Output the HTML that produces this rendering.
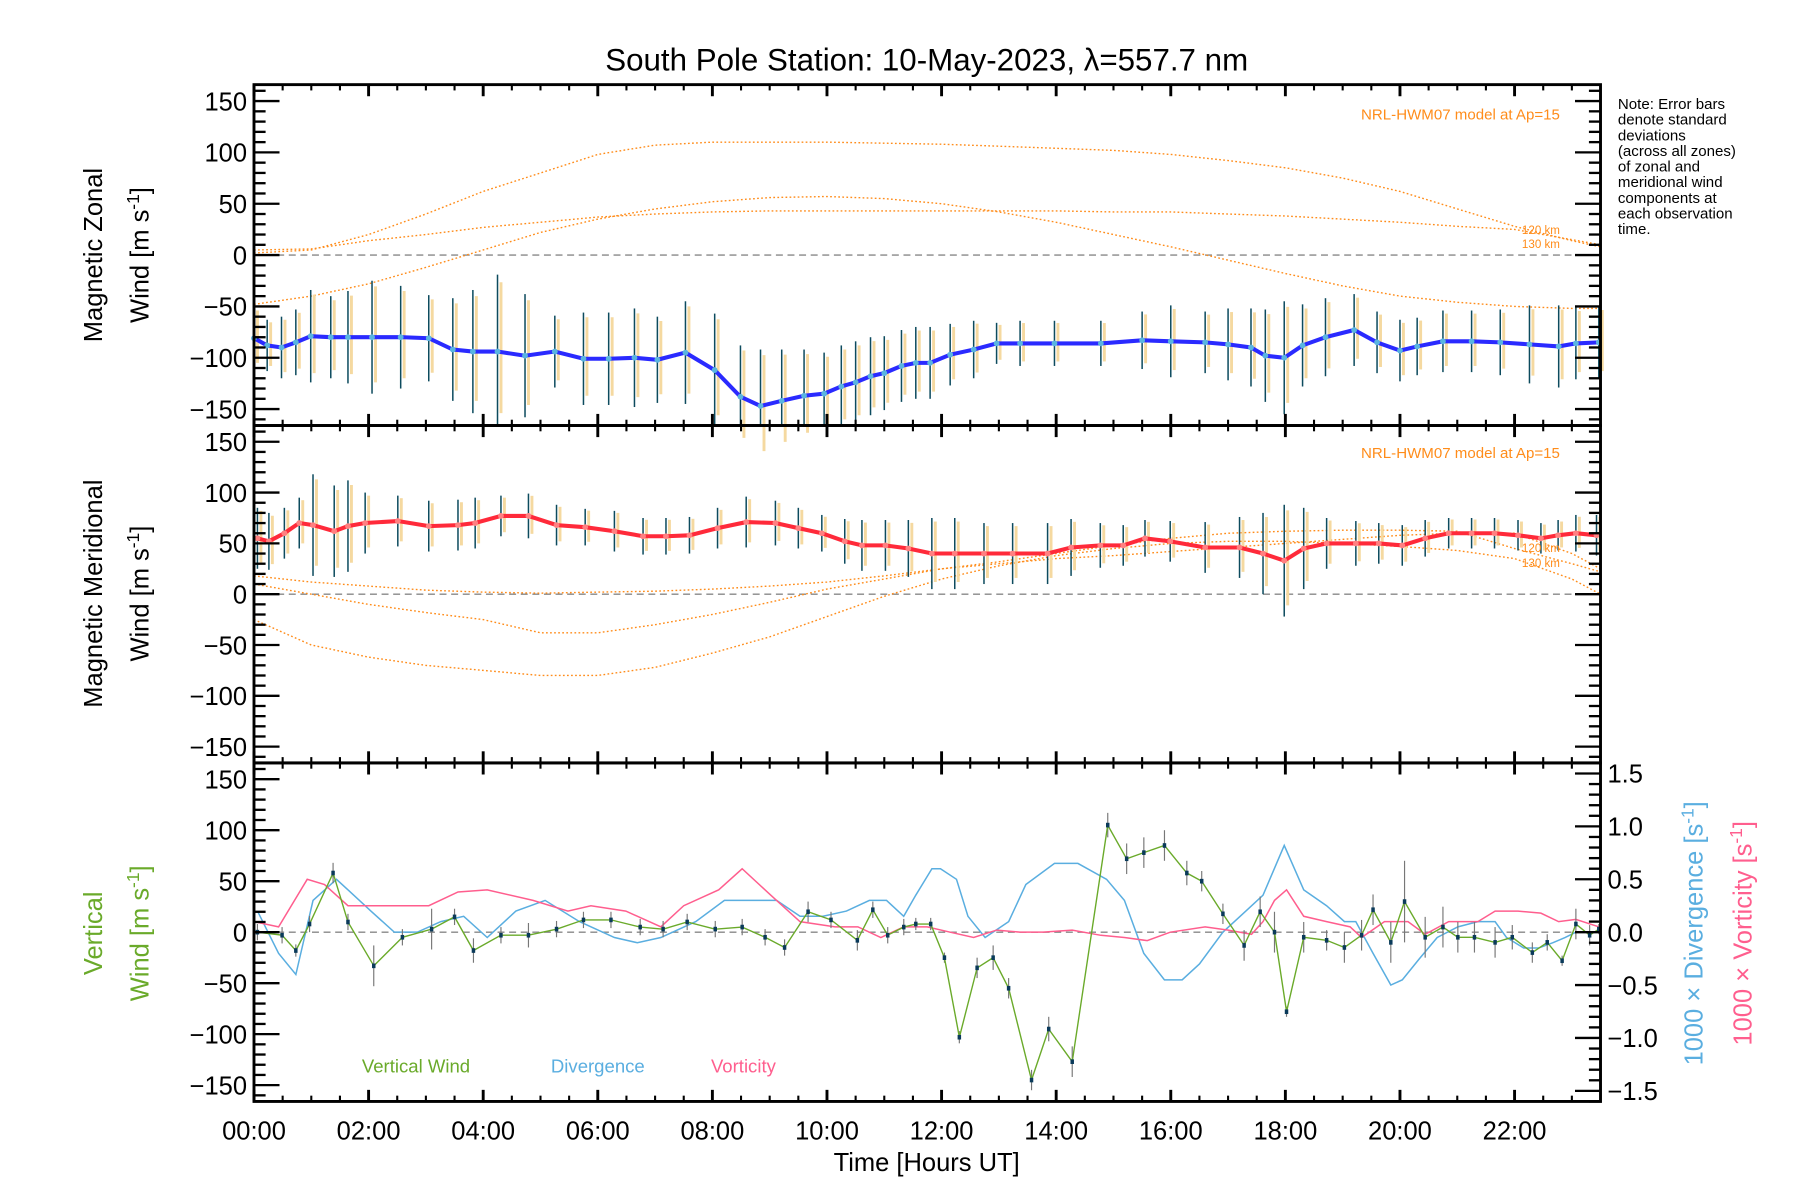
<!DOCTYPE html>
<html><head><meta charset="utf-8"><style>
html,body{margin:0;padding:0;background:#fff;}
svg{display:block;font-family:"Liberation Sans",sans-serif;}
</style></head><body>
<svg id="chart" width="1800" height="1200" viewBox="0 0 1552 1035" preserveAspectRatio="none" xmlns="http://www.w3.org/2000/svg">
<rect width="1552" height="1035" fill="#fff"/>
<text x="799" y="61" font-size="27" text-anchor="middle">South Pole Station: 10-May-2023, λ=557.7 nm</text>
<g id="layer"></g>
<g font-size="13" fill="#000">
<text x="1395" y="94">Note: Error bars</text>
<text x="1395" y="107.5">denote standard</text>
<text x="1395" y="121">deviations</text>
<text x="1395" y="134.5">(across all zones)</text>
<text x="1395" y="148">of zonal and</text>
<text x="1395" y="161.5">meridional wind</text>
<text x="1395" y="175">components at</text>
<text x="1395" y="188.5">each observation</text>
<text x="1395" y="202">time.</text>
</g>
<text font-size="22" transform="translate(88,220) rotate(-90)" text-anchor="middle">Magnetic Zonal</text>
<text font-size="22" transform="translate(128,220) rotate(-90)" text-anchor="middle">Wind [m s<tspan dy="-8" font-size="15">-1</tspan><tspan dy="8">]</tspan></text>
<text font-size="22" transform="translate(88,512) rotate(-90)" text-anchor="middle">Magnetic Meridional</text>
<text font-size="22" transform="translate(128,512) rotate(-90)" text-anchor="middle">Wind [m s<tspan dy="-8" font-size="15">-1</tspan><tspan dy="8">]</tspan></text>
<text font-size="22" fill="#6aaa2a" transform="translate(88,805) rotate(-90)" text-anchor="middle">Vertical</text>
<text font-size="22" fill="#6aaa2a" transform="translate(128,805) rotate(-90)" text-anchor="middle">Wind [m s<tspan dy="-8" font-size="15">-1</tspan><tspan dy="8">]</tspan></text>
<text font-size="22" fill="#5aaee0" transform="translate(1468,805) rotate(-90)" text-anchor="middle">1000 × Divergence [s<tspan dy="-8" font-size="15">-1</tspan><tspan dy="8">]</tspan></text>
<text font-size="22" fill="#ff5e8e" transform="translate(1510,805) rotate(-90)" text-anchor="middle">1000 × Vorticity [s<tspan dy="-8" font-size="15">-1</tspan><tspan dy="8">]</tspan></text>
<text x="799" y="1010" font-size="22" text-anchor="middle">Time [Hours UT]</text>
<text x="312" y="925" font-size="16" fill="#6aaa2a">Vertical Wind</text>
<text x="475" y="925" font-size="16" fill="#5aaee0">Divergence</text>
<text x="613" y="925" font-size="16" fill="#ff5e8e">Vorticity</text>
<text x="1345" y="103" font-size="13" fill="#ff8c1a" text-anchor="end">NRL-HWM07 model at Ap=15</text>
<text x="1345" y="395" font-size="13" fill="#ff8c1a" text-anchor="end">NRL-HWM07 model at Ap=15</text>
<text x="1345" y="202" font-size="10" fill="#ff8c1a" text-anchor="end">120 km</text>
<text x="1345" y="214" font-size="10" fill="#ff8c1a" text-anchor="end">130 km</text>
<text x="1345" y="476" font-size="10" fill="#ff8c1a" text-anchor="end">120 km</text>
<text x="1345" y="489" font-size="10" fill="#ff8c1a" text-anchor="end">130 km</text>
</svg>
<script>
// ---- data (x in displayed pixel space converted via hours) ----
const zonalHours=[0,.23,.48,.73,.99,1.34,1.64,2.06,2.56,3.05,3.47,3.82,4.25,4.73,5.25,5.75,6.19,6.64,7.04,7.53,8.04,8.49,8.84,9.21,9.6,9.95,10.25,10.5,10.76,11.0,11.3,11.55,11.8,12.15,12.56,12.96,13.37,13.97,14.78,15.5,16.0,16.6,17.0,17.4,17.65,17.98,18.3,18.7,19.2,19.6,20.0,20.3,20.75,21.25,21.75,22.26,22.77,23.07,23.47];
const zonalVals=[-81,-88,-90,-85,-79,-80,-80,-80,-80,-81,-92,-94,-94,-98,-94,-101,-101,-100,-102,-95,-112,-138,-147,-142,-137,-135,-128,-124,-118,-115,-108,-105,-105,-97,-92,-86,-86,-86,-86,-83,-84,-85,-87,-90,-98,-100,-88,-80,-73,-85,-93,-89,-84,-84,-85,-87,-89,-86,-85];
const zonalErr=[30,25,30,32,45,40,45,55,50,42,50,60,75,60,35,45,45,48,42,50,55,50,55,50,45,40,40,40,38,36,35,35,35,30,28,20,22,22,22,28,35,30,35,38,45,55,40,38,35,30,30,28,30,30,32,38,40,35,35];
const meridHours=[0.06,0.26,0.53,0.79,1.03,1.4,1.64,1.94,2.51,3.05,3.56,3.86,4.31,4.79,5.28,5.78,6.29,6.79,7.19,7.6,8.09,8.59,9.1,9.5,9.91,10.31,10.61,11.02,11.42,11.83,12.23,12.74,13.24,13.85,14.26,14.77,15.17,15.55,15.99,16.6,17.2,17.61,17.98,18.32,18.72,19.23,19.63,20.04,20.44,20.85,21.25,21.65,22.06,22.46,22.76,23.07,23.43];
const meridVals=[55,52,60,70,68,62,67,70,72,67,68,70,77,77,68,66,62,57,57,58,65,71,70,65,60,52,48,48,45,40,40,40,40,40,46,48,48,55,52,46,46,40,33,45,50,50,50,48,55,60,60,60,58,55,58,60,58];
const meridErr=[30,28,25,25,50,45,45,30,25,25,25,25,20,22,20,18,20,18,18,18,20,25,22,20,18,22,25,25,28,35,35,30,30,30,28,22,20,18,20,25,30,40,55,40,25,22,20,20,18,15,15,15,15,15,15,18,20];
const modelHours=[0,1,2,3,4,5,6,7,8,9,10,11,12,13,14,15,16,17,18,19,20,21,22,23,23.5];
const zonalModelA=[2,5,20,40,62,80,98,107,110,110,110,109,108,106,104,102,98,92,85,75,62,45,28,14,8];
const zonalModelB=[5,6,14,20,27,32,37,40,42,43,43,43,43,43,43,42,42,40,38,35,32,28,25,15,10];
const zonalModelC=[-48,-40,-28,-12,5,22,35,45,52,56,57,55,50,42,32,20,8,-5,-18,-30,-40,-46,-50,-52,-52];
const meridModelA=[18,12,8,4,2,1,2,3,5,8,12,18,25,32,40,48,55,60,62,63,63,62,45,30,22];
const meridModelB=[-25,-50,-62,-70,-75,-80,-80,-72,-58,-42,-22,-2,15,28,38,45,50,52,52,50,47,43,35,15,0];
const meridModelC=[10,0,-10,-18,-25,-38,-38,-30,-20,-8,5,15,25,30,35,38,42,46,50,54,58,60,60,40,25];
const vertHours=[0.06,0.49,0.73,0.97,1.38,1.64,2.09,2.59,3.1,3.5,3.83,4.31,4.79,5.28,5.75,6.23,6.74,7.14,7.56,8.05,8.52,8.92,9.26,9.67,10.07,10.53,10.8,11.06,11.34,11.55,11.81,12.05,12.31,12.62,12.9,13.17,13.57,13.87,14.28,14.9,15.23,15.53,15.89,16.28,16.54,16.91,17.28,17.56,17.81,18.02,18.32,18.72,19.03,19.33,19.53,19.84,20.08,20.44,20.75,21.01,21.3,21.66,21.96,22.31,22.57,22.83,23.07,23.31,23.47];
const vertVals=[0,-3,-18,8,58,10,-33,-5,3,15,-18,-3,-3,3,12,12,5,3,10,3,5,-5,-15,20,12,-8,22,-3,5,8,8,-25,-103,-35,-25,-55,-145,-95,-127,105,72,78,85,58,50,18,-13,20,0,-78,-5,-8,-15,-3,22,-10,30,-5,5,-5,-5,-10,-5,-20,-10,-28,8,-3,3];
const vertErr=[8,8,6,8,10,8,20,8,20,8,12,8,12,8,8,8,8,8,8,8,8,8,8,10,8,10,8,8,8,6,6,5,6,10,12,10,10,12,15,12,15,15,15,12,10,10,15,15,20,5,15,10,15,15,15,20,40,20,20,15,15,15,12,10,8,5,15,10,5];
const divHours=[0.06,0.43,0.73,1.03,1.44,1.64,2.04,2.45,2.85,3.26,3.66,4.07,4.57,5.08,5.68,6.29,6.69,7.1,7.71,8.21,8.62,9.12,9.53,9.93,10.34,10.74,11.04,11.34,11.55,11.83,11.98,12.26,12.46,12.76,13.17,13.47,13.97,14.38,14.88,15.19,15.53,15.89,16.2,16.5,16.91,17.31,17.61,17.98,18.32,18.72,19.03,19.23,19.53,19.84,20.04,20.34,20.65,21.01,21.36,21.66,21.86,22.16,22.42,22.67,22.88,23.07,23.47];
const divVals=[0.2,-0.2,-0.4,0.3,0.5,0.4,0.2,0,0,0.1,0.15,-0.05,0.2,0.3,0.1,-0.05,-0.1,-0.05,0.1,0.3,0.3,0.3,0.15,0.15,0.2,0.3,0.3,0.15,0.35,0.6,0.6,0.5,0.15,-0.05,0.1,0.45,0.65,0.65,0.5,0.3,-0.2,-0.45,-0.45,-0.3,0,0.2,0.35,0.82,0.4,0.25,0.1,0.1,-0.2,-0.5,-0.45,-0.25,-0.05,0.05,0.1,0.1,-0.05,-0.15,-0.15,-0.1,-0.05,0,0];
const vortHours=[0,0.43,0.93,1.23,1.64,2.25,3.05,3.56,4.07,4.87,5.48,5.88,6.49,7.1,7.5,8.11,8.52,9.02,9.53,10.14,10.54,10.94,11.34,11.75,12.15,12.56,12.96,13.37,13.77,14.28,14.78,15.19,15.59,15.99,16.6,17.0,17.41,17.61,17.81,18.02,18.32,18.72,19.13,19.33,19.73,20.14,20.44,20.85,21.36,21.66,22.06,22.46,22.77,23.07,23.47];
const vortVals=[0.1,0.05,0.5,0.45,0.25,0.25,0.25,0.38,0.4,0.3,0.2,0.25,0.2,0.05,0.25,0.4,0.6,0.35,0.1,0.05,0.05,-0.05,0.05,0.05,0,-0.05,0.02,0,0,0.02,-0.03,-0.05,-0.08,0,0.05,0.02,-0.02,0.1,0.3,0.4,0.15,0.1,0.05,-0.05,0.1,0.1,-0.02,0.1,0.1,0.2,0.2,0.18,0.1,0.12,0.05];
const xTickLabels=["00:00","02:00","04:00","06:00","08:00","10:00","12:00","14:00","16:00","18:00","20:00","22:00"];
const yTickLabels=["150","100","50","0","−50","−100","−150"];
const yTickValues=[150,100,50,0,-50,-100,-150];
const rTickLabels=["1.5","1.0","0.5","0.0","−0.5","−1.0","−1.5"];
const rTickValues=[1.5,1,0.5,0,-0.5,-1,-1.5];

// ---- axes ----
const L=219,R=1380,HMAX=23.5;
const panels=[{t:73,b:367},{t:367,b:658},{t:658,b:950}];
const VR=166, RR=1.6;
function X(h){return L+h*(R-L)/HMAX;}
function Y(p,v){const P=panels[p];const m=(P.t+P.b)/2;return m-v*((P.b-P.t)/2)/VR;}
function YR(v){const P=panels[2];const m=(P.t+P.b)/2;return m-v*((P.b-P.t)/2)/RR;}
const NS="http://www.w3.org/2000/svg";
const layer=document.getElementById('layer');
function mk(tag,attrs,parent){const e=document.createElementNS(NS,tag);for(const k in attrs)e.setAttribute(k,attrs[k]);(parent||layer).appendChild(e);return e;}
function poly(pts,attrs,parent){return mk('polyline',Object.assign({points:pts.map(p=>p[0].toFixed(1)+','+p[1].toFixed(1)).join(' '),fill:'none'},attrs),parent);}

// zero lines
panels.forEach((P,i)=>{
  const z=mk('line',{x1:L,x2:R,y1:Y(i,0),y2:Y(i,0),stroke:'#888','stroke-width':1.2,'stroke-dasharray':'6,4'});
  
  
});

// model curves
function model(p,vals,name){
  const e=poly(modelHours.map((h,i)=>[X(h),Y(p,vals[i])]),{stroke:'#ff8c1a','stroke-width':1.2,'stroke-dasharray':'1.5,2'});
  
  
}
model(0,zonalModelA,'zonal-model-a');model(0,zonalModelB,'zonal-model-b');model(0,zonalModelC,'zonal-model-c');
model(1,meridModelA,'merid-model-a');model(1,meridModelB,'merid-model-b');model(1,meridModelC,'merid-model-c');

// error bars + series
function errbars(p,hours,vals,errs,name,color,w){
  const g=mk('g',{});
  
  
  hours.forEach((h,i)=>{
    const yt=Math.max(panels[p].t,Y(p,vals[i]+errs[i])), yb=Math.min(panels[p].b,Y(p,vals[i]-errs[i]));
    mk('line',{x1:X(h)+3,x2:X(h)+3,y1:Y(p,vals[i]+errs[i]*0.9),y2:Y(p,vals[i]-errs[i]*0.8),stroke:'#f5d9a0','stroke-width':2.5},g);
    mk('line',{x1:X(h),x2:X(h),y1:yt,y2:yb,stroke:color,'stroke-width':w},g);
  });
}
errbars(0,zonalHours,zonalVals,zonalErr,'zonal-error-bars','#0d4b5e',1.3);
errbars(1,meridHours,meridVals,meridErr,'merid-error-bars','#0d4b5e',1.3);
const zl=poly(zonalHours.map((h,i)=>[X(h),Y(0,zonalVals[i])]),{stroke:'#2a2aff','stroke-width':3.5});


const ml=poly(meridHours.map((h,i)=>[X(h),Y(1,meridVals[i])]),{stroke:'#ff2a3a','stroke-width':3.5});


zonalHours.forEach((h,i)=>{const c=mk('circle',{cx:X(h),cy:Y(0,zonalVals[i]),r:2.5,fill:'#5ab4e0'});});
meridHours.forEach((h,i)=>{const c=mk('circle',{cx:X(h),cy:Y(1,meridVals[i]),r:2.5,fill:'#ff8080'});});

// panel 3
const dl=poly(divHours.map((h,i)=>[X(h),YR(divVals[i])]),{stroke:'#5aaee0','stroke-width':1.3});


const vl=poly(vortHours.map((h,i)=>[X(h),YR(vortVals[i])]),{stroke:'#ff5e8e','stroke-width':1.3});


const vg=mk('g',{});


vertHours.forEach((h,i)=>{mk('line',{x1:X(h),x2:X(h),y1:Y(2,vertVals[i]+vertErr[i]),y2:Y(2,vertVals[i]-vertErr[i]),stroke:'#777','stroke-width':1},vg);});
const wl=poly(vertHours.map((h,i)=>[X(h),Y(2,vertVals[i])]),{stroke:'#6aaa2a','stroke-width':1.2});


vertHours.forEach((h,i)=>{const r=mk('rect',{x:X(h)-1.5,y:Y(2,vertVals[i])-2,width:3,height:4,fill:'#0a3a5a'});});

// frames and ticks
const ax=mk('g',{stroke:'#000'});


panels.forEach((P,p)=>{
  mk('rect',{x:L,y:P.t,width:R-L,height:P.b-P.t,fill:'none','stroke-width':2.5},ax);
  for(let m=0;m<=HMAX*60;m+=30){const x=X(m/60),big=m%120===0,len=big?10:5;
    mk('line',{x1:x,x2:x,y1:P.b,y2:P.b-len,'stroke-width':big?2.5:1.8},ax);
    mk('line',{x1:x,x2:x,y1:P.t,y2:P.t+len,'stroke-width':big?2.5:1.8},ax);}
  for(let v=-160;v<=160;v+=10){const y=Y(p,v),big=v%50===0,len=big?22:10;
    mk('line',{x1:L,x2:L+len,y1:y,y2:y,'stroke-width':2},ax);
    if(p<2) mk('line',{x1:R,x2:R-len,y1:y,y2:y,'stroke-width':2},ax);}
  yTickValues.forEach((v,i)=>{const t=mk('text',{x:L-6,y:Y(p,v)+8,'font-size':22,'text-anchor':'end',stroke:'none',fill:'#000'});t.textContent=yTickLabels[i];});
});
for(let k=-16;k<=16;k++){const v=k/10,y=YR(v),big=k%5===0,len=big?22:10;
  mk('line',{x1:R,x2:R-len,y1:y,y2:y,'stroke-width':2},ax);}
rTickValues.forEach((v,i)=>{const t=mk('text',{x:R+6,y:YR(v)+8,'font-size':22,stroke:'none',fill:'#000'});t.textContent=rTickLabels[i];});
xTickLabels.forEach((s,i)=>{const t=mk('text',{x:X(i*2),y:983,'font-size':22,'text-anchor':'middle',stroke:'none',fill:'#000'});t.textContent=s;});
</script>
</body></html>
